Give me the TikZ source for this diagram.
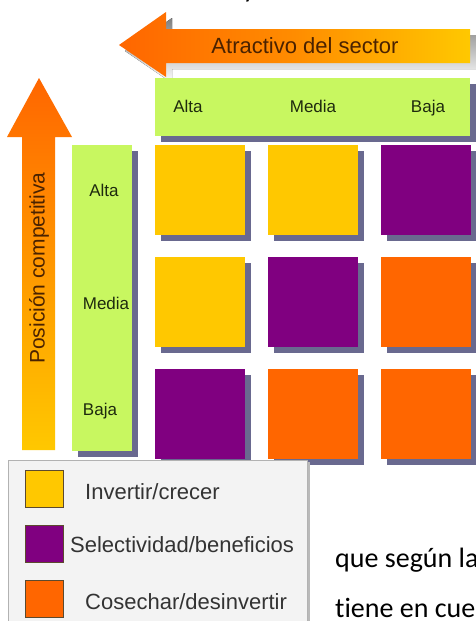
\documentclass[tikz,border=0pt]{standalone}
\usepackage{fontspec}
\setmainfont{Liberation Sans}
\newfontfamily\bodyfont[Ligatures=NoCommon]{Carlito}
\usetikzlibrary{shadows}
\definecolor{lime}{HTML}{C8F760}
\definecolor{gold}{HTML}{FFC800}
\definecolor{plum}{HTML}{800080}
\definecolor{tangerine}{HTML}{FF6600}
\definecolor{shade}{HTML}{69698F}
\definecolor{arrowtext}{HTML}{4A2200}
\definecolor{hdrtext}{HTML}{1E2A0E}
\definecolor{legtext}{HTML}{333333}
\definecolor{legbg}{HTML}{F3F3F3}
\definecolor{legswatchline}{HTML}{5C4A2E}
\begin{document}
\begin{tikzpicture}[x=1pt,y=-1pt,
  boxshadow/.style={drop shadow={shadow xshift=6pt,shadow yshift=-6pt,fill=shade,opacity=1}},
  cell/.style={draw=none,minimum width=90pt,minimum height=90pt,inner sep=0pt,boxshadow},
  bar/.style={fill=lime,draw=none,inner sep=0pt,boxshadow},
  hdr/.style={font=\fontsize{17}{20}\selectfont,text=hdrtext,inner sep=0pt,anchor=base},
  axislabel/.style={font=\fontsize{22}{25}\selectfont,text=arrowtext,inner sep=0pt},
  swatch/.style={draw=legswatchline,line width=0.8pt,minimum width=38pt,minimum height=37pt,inner sep=0pt},
  legitem/.style={font=\fontsize{22}{25}\selectfont,text=legtext,inner sep=0pt,anchor=west},
  body/.style={font=\bodyfont\fontsize{28}{32}\selectfont,text=black,inner sep=0pt,anchor=base west}]
\clip (0,0) rectangle (476,621);
\fill[white] (0,0) rectangle (476,621);

% line of body text above, mostly cut off
\node[body] (ytop) at (243,-2) {y};

% horizontal arrow: attractiveness of the sector
\fill[shade] (125,51) -- (172,18) -- (172,35) -- (476,35) -- (476,69) -- (172,69) -- (172,83) -- cycle;
\shade[left color=tangerine,right color=gold,middle color=orange!90!yellow]
  (119,45) -- (166,12) -- (166,29) -- (470,29) -- (470,63) -- (166,63) -- (166,77) -- cycle;
\node[axislabel] (xtitle) at (305,46) {Atractivo del sector};

% vertical arrow: competitive position
\shade[top color=tangerine,bottom color=gold]
  (39,78) -- (72,137) -- (55,137) -- (55,450) -- (22,450) -- (22,137) -- (7,137) -- cycle;
\node[axislabel,font=\fontsize{21}{24}\selectfont,rotate=90] (ytitle) at (39,268) {Posición competitiva};

% header bars
\node[bar,minimum width=315pt,minimum height=58pt] (colhdr) at (312.5,107) {};
\node[bar,minimum width=60pt,minimum height=306pt] (rowhdr) at (102,298) {};

\node[hdr] (cA) at (188,112) {Alta};
\node[hdr] (cM) at (313,112) {Media};
\node[hdr] (cB) at (428,112) {Baja};
\node[hdr] (rA) at (104,196) {Alta};
\node[hdr] (rM) at (106,309) {Media};
\node[hdr] (rB) at (100,415) {Baja};

% strategy grid
\node[cell,fill=gold]      (g11) at (200,190) {};
\node[cell,fill=gold]      (g12) at (313,190) {};
\node[cell,fill=plum]      (g13) at (426,190) {};
\node[cell,fill=gold]      (g21) at (200,302) {};
\node[cell,fill=plum]      (g22) at (313,302) {};
\node[cell,fill=tangerine] (g23) at (426,302) {};
\node[cell,fill=plum]      (g31) at (200,414) {};
\node[cell,fill=tangerine] (g32) at (313,414) {};
\node[cell,fill=tangerine] (g33) at (426,414) {};

% legend
\fill[gray!55] (10,462) rectangle (310,630);
\draw[fill=legbg,draw=gray!60,line width=0.8pt] (8,460) rectangle (307,630);
\node[swatch,fill=gold]      (s1) at (44,488.5) {};
\node[swatch,fill=plum]      (s2) at (44,544) {};
\node[swatch,fill=tangerine] (s3) at (44,599) {};
\node[legitem] (l1) at (85,492) {Invertir/crecer};
\node[legitem] (l2) at (70,545) {Selectividad/beneficios};
\node[legitem] (l3) at (85,602) {Cosechar/desinvertir};

% running text beside the legend
\node[body] (t1) at (335,567) {que según la};
\node[body] (t2) at (335,617) {tiene en cue};
\end{tikzpicture}
\end{document}
